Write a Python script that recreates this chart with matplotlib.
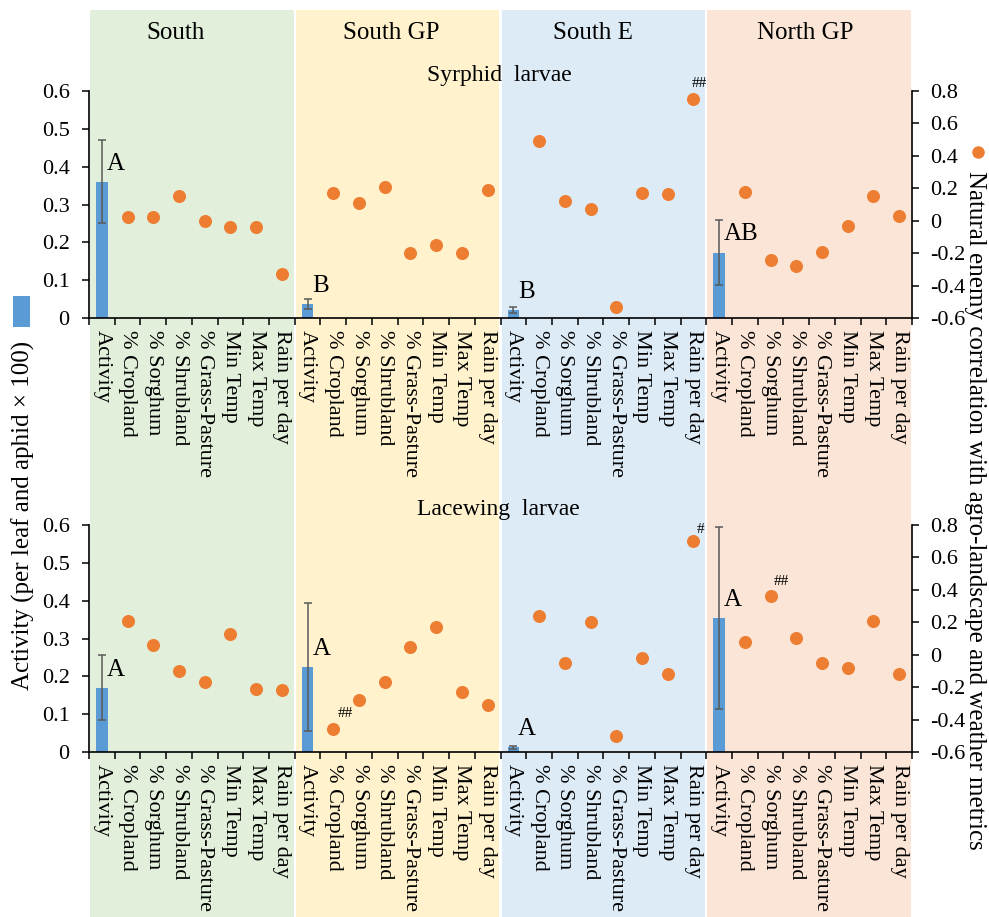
import numpy as np
import matplotlib
matplotlib.use('Agg')
import matplotlib.pyplot as plt
from matplotlib.patches import Rectangle
from matplotlib.lines import Line2D
from matplotlib.ticker import FuncFormatter

plt.rcParams['font.family'] = ['Liberation Serif', 'DejaVu Serif']
plt.rcParams['axes.unicode_minus'] = False

regions = ['South', 'South GP', 'South E', 'North GP']
metrics = ['Activity', '% Cropland', '% Sorghum', '% Shrubland', '% Grass-Pasture',
           'Min Temp', 'Max Temp', 'Rain per day']
band_colors = ['#E2EFDA', '#FFF2CC', '#DDEBF7', '#FBE5D6']

# Syrphid larvae
syr_activity = [0.36, 0.037, 0.021, 0.173]
syr_err = [0.11, 0.012, 0.008, 0.086]
syr_letters = ['A', 'B', 'B', 'AB']
syr_corr = [
    [0.02, 0.02, 0.15, 0.00, -0.04, -0.04, -0.33],
    [0.17, 0.11, 0.21, -0.20, -0.15, -0.20, 0.19],
    [0.49, 0.12, 0.07, -0.53, 0.17, 0.165, 0.75],
    [0.18, -0.24, -0.28, -0.19, -0.03, 0.15, 0.03],
]
syr_marks = [(2, 6, '##')]          # (region, metric after Activity, text)
syr_mark_offsets = [(4, 11.5)]

# Lacewing larvae
lace_activity = [0.17, 0.225, 0.012, 0.354]
lace_err = [0.086, 0.17, 0.003, 0.24]
lace_letters = ['A', 'A', 'A', 'A']
lace_corr = [
    [0.21, 0.06, -0.10, -0.17, 0.13, -0.21, -0.22],
    [-0.46, -0.28, -0.17, 0.05, 0.17, -0.23, -0.31],
    [0.24, -0.05, 0.20, -0.50, -0.02, -0.12, 0.70],
    [0.08, 0.36, 0.10, -0.05, -0.08, 0.21, -0.12],
]
lace_marks = [(1, 0, '##'), (2, 6, '#'), (3, 1, '##')]
lace_mark_offsets = [(9, 11.5), (5.5, 8.5), (7.5, 11)]

W, H = 989, 917
fig = plt.figure(figsize=(W / 100, H / 100), dpi=100)

ax_left, ax_right = 89 / W, 912 / W
ax_w = ax_right - ax_left
panel_tops = [91, 525]
panel_h = 227


def fmt(v, pos):
    return '0' if abs(v) < 1e-9 else f'{v:.1f}'


def draw_panel(top_px, activity, err, letters, corr, marks, offsets, title, title_x):
    ax = fig.add_axes([ax_left, 1 - (top_px + panel_h) / H, ax_w, panel_h / H])
    ax.patch.set_facecolor('none')
    ax2 = ax.twinx()
    n = len(metrics)
    for k in range(len(regions)):
        x0 = k * n
        ax.bar(x0, activity[k], width=0.45, color='#5B9BD5', zorder=2)
        ax.errorbar(x0, activity[k], yerr=err[k], fmt='none', ecolor='#595959',
                    elinewidth=1.1, capsize=3, capthick=1.1, zorder=3)
        ax.annotate(letters[k], (x0, activity[k]), xytext=(3.5, 13),
                    textcoords='offset points', ha='left', va='center', fontsize=18)
        xs = np.arange(x0 + 1, x0 + n)
        ax2.scatter(xs, corr[k], s=88, color='#ED7D31', linewidths=0, zorder=3)
    for (k, m, txt), (dx, dy) in zip(marks, offsets):
        ax2.annotate(txt, (k * n + 1 + m, corr[k][m]), xytext=(dx, dy),
                     textcoords='offset points', ha='center', va='center', fontsize=11)

    ax.set_xlim(-0.5, n * len(regions) - 0.5)
    ax.set_ylim(0, 0.6)
    ax2.set_ylim(-0.6, 0.8)
    ax.set_yticks(np.arange(0, 0.61, 0.1))
    ax2.set_yticks(np.arange(-0.6, 0.81, 0.2))
    ax.yaxis.set_major_formatter(FuncFormatter(fmt))
    ax2.yaxis.set_major_formatter(FuncFormatter(fmt))

    ax.set_xticks(np.arange(-0.5, n * len(regions), 1))
    ax.set_xticklabels([])
    ax.set_xticks(np.arange(n * len(regions)), minor=True)
    ax.set_xticklabels(metrics * len(regions), minor=True, rotation=270, fontsize=16)
    ax.tick_params(axis='x', which='major', direction='out', length=5, width=1.1)
    ax.tick_params(axis='x', which='minor', length=0, pad=9)
    ax.tick_params(axis='y', direction='out', length=5, width=1.1, labelsize=16, pad=9)
    ax2.tick_params(axis='y', direction='out', length=5, width=1.1, labelsize=16, pad=8)

    for a in (ax, ax2):
        a.spines['top'].set_visible(False)
        for s in a.spines.values():
            s.set_linewidth(1.2)
            s.set_color('black')
    ax.spines['right'].set_visible(False)
    ax2.spines['left'].set_visible(False)
    ax2.spines['bottom'].set_visible(False)

    fig.text(title_x / W, 1 - (top_px - 16) / H, title, ha='center', va='center', fontsize=17)
    return ax


draw_panel(panel_tops[0], syr_activity, syr_err, syr_letters, syr_corr,
           syr_marks, syr_mark_offsets, 'Syrphid  larvae', 499)
draw_panel(panel_tops[1], lace_activity, lace_err, lace_letters, lace_corr,
           lace_marks, lace_mark_offsets, 'Lacewing  larvae', 498)

# background bands behind each region
band_top = 1 - 10 / H
for k, c in enumerate(band_colors):
    x0 = ax_left + ax_w * k / 4 + 1.2 / W
    fig.add_artist(Rectangle((x0, 0), ax_w / 4 - 2.4 / W, band_top,
                             transform=fig.transFigure, facecolor=c,
                             edgecolor='none', zorder=-1))

region_x = [176, 391, 593, 805]
for name, xp in zip(regions, region_x):
    fig.text(xp / W, 1 - 33 / H, name, ha='center', va='center', fontsize=18)

# series keys
fig.add_artist(Rectangle((13 / W, 1 - 327 / H), 17 / W, 31 / H,
                         transform=fig.transFigure, facecolor='#5B9BD5', edgecolor='none'))
fig.add_artist(Line2D([978 / W], [1 - 152 / H], marker='o', markersize=9,
                      color='#ED7D31', markeredgewidth=0, transform=fig.transFigure))

fig.text(23 / W, 1 - 515 / H, 'Activity (per leaf and aphid × 100)',
         rotation=90, ha='center', va='center', fontsize=18)
fig.text(975 / W, 1 - 510 / H,
         'Natural enemy correlation with agro-landscape and weather metrics',
         rotation=270, ha='center', va='center', fontsize=18)

fig.savefig('out.png', dpi=100)
